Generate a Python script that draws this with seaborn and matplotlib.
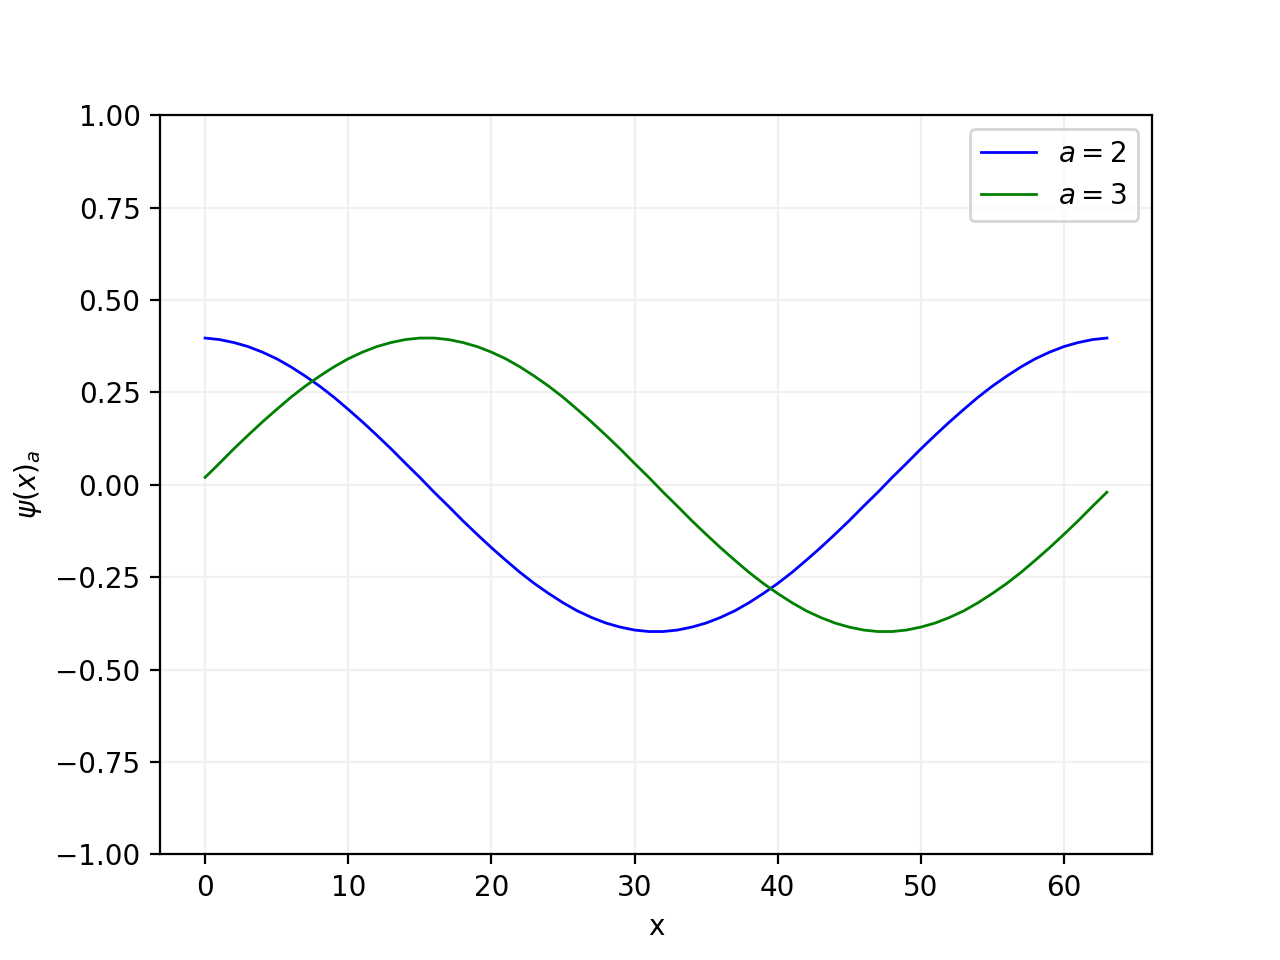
import numpy as np
import pandas as pd
import matplotlib
matplotlib.use("Agg")
import matplotlib.pyplot as plt
import seaborn as sns

# values, x = 0..63
x_vals = list(range(64))

psi_a2 = [0.397, 0.393, 0.385, 0.374, 0.359, 0.341, 0.319, 0.294, 0.267, 0.237, 0.204, 0.170, 0.134, 0.097, 0.058, 0.020,
          -0.020, -0.058, -0.097, -0.134, -0.170, -0.204, -0.237, -0.267, -0.294, -0.319, -0.341, -0.359, -0.374, -0.385, -0.393, -0.397,
          -0.397, -0.393, -0.385, -0.374, -0.359, -0.341, -0.319, -0.294, -0.267, -0.237, -0.204, -0.170, -0.134, -0.097, -0.058, -0.020,
          0.020, 0.058, 0.097, 0.134, 0.170, 0.204, 0.237, 0.267, 0.294, 0.319, 0.341, 0.359, 0.374, 0.385, 0.393, 0.397]

psi_a3 = [0.020, 0.058, 0.097, 0.134, 0.170, 0.204, 0.237, 0.267, 0.294, 0.319, 0.341, 0.359, 0.374, 0.385, 0.393, 0.397,
          0.397, 0.393, 0.385, 0.374, 0.359, 0.341, 0.319, 0.294, 0.267, 0.237, 0.204, 0.170, 0.134, 0.097, 0.058, 0.020,
          -0.020, -0.058, -0.097, -0.134, -0.170, -0.204, -0.237, -0.267, -0.294, -0.319, -0.341, -0.359, -0.374, -0.385, -0.393, -0.397,
          -0.397, -0.393, -0.385, -0.374, -0.359, -0.341, -0.319, -0.294, -0.267, -0.237, -0.204, -0.170, -0.134, -0.097, -0.058, -0.020]

labels = ['$a=2$', '$a=3$']
colors = ['blue', 'green']

df = pd.DataFrame({
    'x': x_vals * 2,
    'psi': psi_a2 + psi_a3,
    'a': [labels[0]] * 64 + [labels[1]] * 64,
})

fig, ax = plt.subplots(figsize=(6.4, 4.8), dpi=200)
sns.lineplot(data=df, x='x', y='psi', hue='a', palette=colors, linewidth=1.0, ax=ax)

ax.set_ylim(-1, 1)
ax.set_yticks(np.arange(-1, 1.01, 0.25))
ax.grid(True, color='#f0f0f0')
ax.set_axisbelow(True)
ax.set_xlabel('x')
ax.set_ylabel(r'$\psi(x)_a$')
ax.legend(loc='upper right')

fig.savefig('out.png', dpi=200)
